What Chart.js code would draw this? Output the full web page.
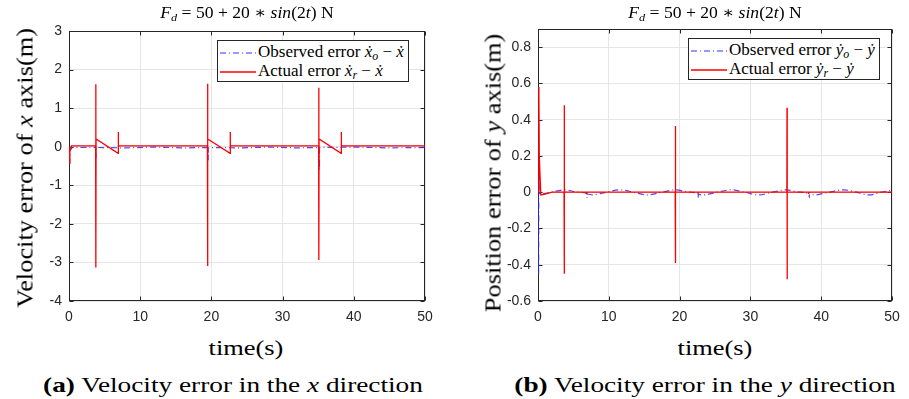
<!DOCTYPE html>
<html>
<head>
<meta charset="utf-8">
<script src="https://cdn.jsdelivr.net/npm/chart.js@4"></script>
<style>
  body { margin: 0; background: #fff; }
  #wrap { position: relative; width: 909px; height: 399px; background: #fff; overflow: hidden; }
  canvas { position: absolute; top: 0; }
  .txt { position: absolute; font-family: "Liberation Serif", "DejaVu Serif", serif; color: #000; white-space: nowrap; }
  .title { font-size: 16px; transform: translateX(-50%) scaleX(1.1); }
  .xlab { font-size: 22px; transform: translateX(-50%) scaleX(1.2); }
  .ylab { font-size: 24px; transform: translate(-50%, -50%) rotate(-90deg) scaleX(1.1); }
  .cap { font-size: 22px; transform: translateX(-50%) scaleX(1.24); }
  .legend { position: absolute; background: #fff; border: 1px solid #262626; font-family: "Liberation Serif", serif; font-size: 17px; padding: 1px 4px 1px 2px; }
  .legend div { height: 19px; line-height: 19px; white-space: nowrap; }
  .legend svg { vertical-align: middle; margin-right: 2px; }
  sub { font-size: 70%; vertical-align: -3px; line-height: 0; }
</style>
</head>
<body>
<div id="wrap">
  <canvas id="chartA" width="450" height="330" style="left:0"></canvas>
  <canvas id="chartB" width="459" height="330" style="left:450px"></canvas>

  <div class="txt title" style="left:247px;top:3px"><i>F<sub>d</sub></i> = 50 + 20 ∗ <i>sin</i>(2<i>t</i>) N</div>
  <div class="txt title" style="left:715px;top:3px"><i>F<sub>d</sub></i> = 50 + 20 ∗ <i>sin</i>(2<i>t</i>) N</div>

  <div class="txt ylab" style="left:25px;top:168px">Velocity error of <i>x</i> axis(m)</div>
  <div class="txt ylab" style="left:493px;top:173px">Position error of <i>y</i> axis(m)</div>

  <div class="txt xlab" style="left:246px;top:335px">time(s)</div>
  <div class="txt xlab" style="left:715px;top:335px">time(s)</div>

  <div class="txt cap" style="left:233px;top:372px"><b>(a)</b> Velocity error in the <i>x</i> direction</div>
  <div class="txt cap" style="left:705px;top:372px"><b>(b)</b> Velocity error in the <i>y</i> direction</div>

  <div class="legend" style="left:217px;top:40px">
    <div><svg width="36" height="6"><line x1="0" y1="3" x2="36" y2="3" stroke="#3333ff" stroke-width="1.2" stroke-dasharray="6,3,1,3"/></svg>Observed error <i>ẋ<sub>o</sub></i> − <i>ẋ</i></div>
    <div><svg width="36" height="6"><line x1="0" y1="3" x2="36" y2="3" stroke="#ff0000" stroke-width="1.3"/></svg>Actual error <i>ẋ<sub>r</sub></i> − <i>ẋ</i></div>
  </div>
  <div class="legend" style="left:688px;top:38px">
    <div><svg width="36" height="6"><line x1="0" y1="3" x2="36" y2="3" stroke="#3333ff" stroke-width="1.2" stroke-dasharray="6,3,1,3"/></svg>Observed error <i>ẏ<sub>o</sub></i> − <i>ẏ</i></div>
    <div><svg width="36" height="6"><line x1="0" y1="3" x2="36" y2="3" stroke="#ff0000" stroke-width="1.3"/></svg>Actual error <i>ẏ<sub>r</sub></i> − <i>ẏ</i></div>
  </div>
</div>

<script>
// tick labels
const timeTicks = [0, 10, 20, 30, 40, 50];
const vxTicks = [-4, -3, -2, -1, 0, 1, 2, 3];
const pyTicks = [-0.6, -0.4, -0.2, 0, 0.2, 0.4, 0.6, 0.8];

// (a) x direction, actual error (red)
const vxActT = [0, 0.1, 0.14, 0.35, 3.74, 3.76, 3.78, 3.8, 6.9, 6.92, 6.95, 19.44, 19.46, 19.48, 19.5, 22.62, 22.64, 22.67, 35.06, 35.08, 35.1, 35.12, 38.22, 38.24, 38.27, 50];
const vxAct  = [0.0, -0.45, -0.1, 0.02, 0.02, 1.62, -3.13, 0.2, -0.17, 0.38, 0.02, 0.02, 1.63, -3.09, 0.2, -0.17, 0.38, 0.02, 0.02, 1.53, -2.94, 0.2, -0.17, 0.38, 0.02, 0.02];

// (a) x direction, observed error (blue)
const vxObsT = [0, 0.1, 0.16, 0.45, 3.76, 3.78, 3.8, 8, 12, 16, 19.52, 19.54, 19.56, 24, 28, 32, 35.15, 35.17, 35.19, 40, 45, 50];
const vxObs  = [0.0, -0.4, -0.1, -0.02, -0.02, -0.3, -0.02, -0.03, -0.01, -0.03, -0.02, -0.35, -0.02, -0.03, -0.01, -0.03, -0.02, -0.6, -0.02, -0.01, -0.03, -0.02];

// (b) y direction, actual error (red)
const pyActT = [0, 0.12, 0.18, 0.4, 1.0, 2.0, 3.68, 3.7, 3.72, 3.74, 6.88, 6.9, 6.92, 19.38, 19.4, 19.42, 19.44, 22.6, 22.62, 22.64, 35.15, 35.17, 35.19, 35.21, 38.2, 38.22, 38.24, 50];
const pyAct  = [0.0, 0.58, 0.2, -0.015, -0.01, 0.0, 0.0, 0.48, -0.45, 0.0, 0.0, -0.012, 0.0, 0.0, 0.365, -0.39, 0.0, 0.0, -0.01, 0.0, 0.0, 0.466, -0.48, 0.0, 0.0, -0.01, 0.0, 0.0];

// (b) y direction, observed error (blue)
const pyObsT = [0, 0.08, 0.12, 0.2, 0.4, 1.8, 3.8, 5.7, 6.9, 6.92, 6.94, 7.7, 9.6, 11.6, 13.5, 15.5, 17.5, 19.5, 21.4, 22.6, 22.62, 22.64, 23.3, 25.3, 27.3, 29.2, 31.2, 33.1, 35.1, 37.0, 38.3, 38.32, 38.34, 39.0, 41.1, 43.2, 45.0, 46.8, 48.5, 50];
const pyObs  = [0.05, -0.45, 0.05, 0.0, -0.01, 0.0, 0.013, 0.0, -0.008, -0.03, -0.01, -0.015, 0.0, 0.013, 0.0, -0.015, 0.0, 0.013, 0.0, -0.01, -0.03, -0.012, -0.015, 0.0, 0.013, 0.0, -0.015, 0.0, 0.013, 0.0, -0.01, -0.03, -0.012, -0.015, 0.0, 0.013, 0.0, -0.015, 0.0, 0.01];

function pts(ts, vs) {
    return ts.map((t, i) => ({ x: t, y: vs[i] }));
}

// box around the plot with inward tick marks, matlab style
// drawn before the datasets so the curves sit on top of the axis lines
const framePlugin = {
    id: 'frame',
    beforeDatasetsDraw(chart) {
        const { ctx, chartArea: a, scales } = chart;
        const l = Math.round(a.left) + 0.5, r = Math.round(a.right) - 0.5;
        const t = Math.round(a.top) + 0.5, b = Math.round(a.bottom) - 0.5;
        ctx.save();
        ctx.strokeStyle = '#262626';
        ctx.lineWidth = 1;
        ctx.beginPath();
        scales.y.ticks.forEach(tk => {
            const y = Math.round(scales.y.getPixelForValue(tk.value)) + 0.5;
            ctx.moveTo(l, y); ctx.lineTo(l + 4, y);
            ctx.moveTo(r, y); ctx.lineTo(r - 4, y);
        });
        scales.x.ticks.forEach(tk => {
            const x = Math.round(scales.x.getPixelForValue(tk.value)) + 0.5;
            ctx.moveTo(x, b); ctx.lineTo(x, b - 4);
            ctx.moveTo(x, t); ctx.lineTo(x, t + 4);
        });
        ctx.stroke();
        ctx.strokeRect(l, t, r - l, b - t);
        ctx.restore();
    }
};

function makeChart(id, obs, act, yMin, yMax, yTicks, fmt, pad, yWidth, smoothObs) {
    return new Chart(document.getElementById(id), {
        type: 'line',
        data: {
            datasets: [
                { data: act, borderColor: '#ff0000', borderWidth: 1.3, pointRadius: 0, order: 0 },
                { data: obs, borderColor: 'rgba(40,40,255,0.85)', borderWidth: 1.2, borderDash: [6, 3, 1, 3],
                  pointRadius: 0, order: 1, cubicInterpolationMode: smoothObs ? 'monotone' : 'default' }
            ]
        },
        options: {
            responsive: false,
            animation: false,
            layout: { padding: pad },
            plugins: { legend: { display: false }, tooltip: { enabled: false } },
            scales: {
                x: {
                    type: 'linear', min: 0, max: 50,
                    afterBuildTicks: s => { s.ticks = timeTicks.map(v => ({ value: v })); },
                    afterFit: s => { s.height = 29; },
                    grid: { color: '#e6e6e6', drawTicks: false },
                    border: { display: false },
                    ticks: { color: '#262626', padding: 8, font: { family: 'Liberation Sans', size: 14 } }
                },
                y: {
                    min: yMin, max: yMax,
                    afterBuildTicks: s => { s.ticks = yTicks.map(v => ({ value: v })); },
                    afterFit: s => { s.width = yWidth; },
                    grid: { color: '#e6e6e6', drawTicks: false },
                    border: { display: false },
                    ticks: { color: '#262626', padding: 7, font: { family: 'Liberation Sans', size: 14 }, callback: fmt }
                }
            }
        },
        plugins: [framePlugin]
    });
}

makeChart('chartA', pts(vxObsT, vxObs), pts(vxActT, vxAct), -4, 3, vxTicks,
    v => String(v), { left: 30, top: 31, right: 25, bottom: 0 }, 39, false);

makeChart('chartB', pts(pyObsT, pyObs), pts(pyActT, pyAct), -0.6, 0.9, pyTicks,
    v => (Math.abs(v) < 1e-9 ? '0' : v.toFixed(1)), { left: 40, top: 29, right: 17, bottom: 0 }, 48, true);
</script>
</body>
</html>
